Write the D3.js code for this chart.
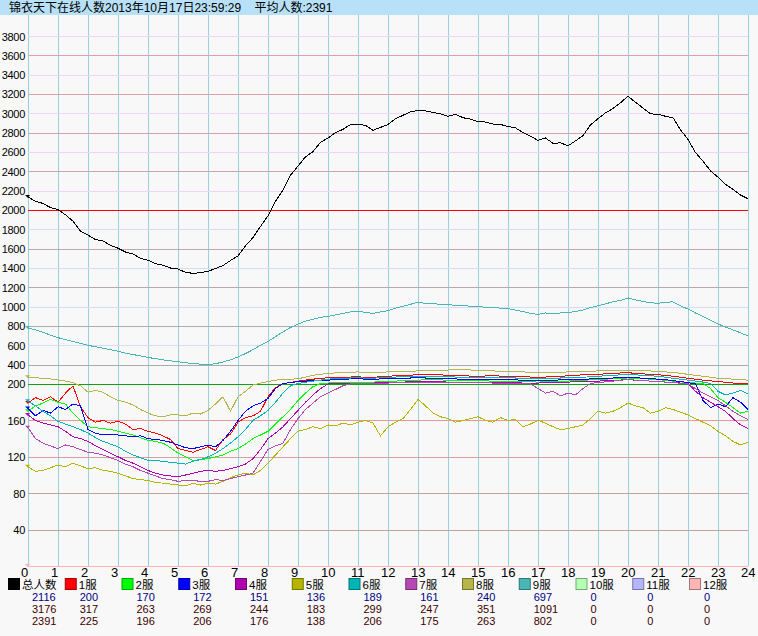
<!DOCTYPE html>
<html><head><meta charset="utf-8">
<script src="https://cdn.jsdelivr.net/npm/d3@7/dist/d3.min.js"></script>
<style>body{margin:0;background:#f8f8f8;}svg{display:block}</style>
</head><body>
<svg id="c" width="758" height="636"></svg>
<script>
const titleText = "锦衣天下在线人数2013年10月17日23:59:29    平均人数:2391";
const hourTicks = d3.range(0, 25);
const upperTicks = [200,400,600,800,1000,1200,1400,1600,1800,2000,2200,2400,2600,2800,3000,3200,3400,3600,3800];
const lowerTicks = [40,80,120,160];
const seriesNames = ["总人数","1服","2服","3服","4服","5服","6服","7服","8服","9服","10服","11服","12服"];
const seriesColors = ["#000000","#ff0000","#00ff00","#0000ff","#b000b0","#b5b500","#00b5b5","#b54ab5","#b5b54a","#4ab5b5","#b5ffb5","#b5b5ff","#ffb5b5"];
const curValues = [2116,200,170,172,151,136,189,161,240,697,0,0,0];
const maxValues = [3176,317,263,269,244,183,299,247,351,1091,0,0,0];
const avgValues = [2391,225,196,206,176,138,206,175,263,802,0,0,0];
// quarter-hour samples 0:00 .. 24:00
const sTotal = [2134,2090,2068,2025,2005,1950,1885,1780,1740,1695,1680,1635,1605,1565,1545,1500,1480,1445,1430,1400,1390,1355,1345,1352,1365,1395,1425,1478,1525,1630,1715,1830,1940,2090,2205,2360,2455,2550,2605,2700,2745,2800,2835,2885,2890,2875,2825,2855,2885,2945,2980,3015,3030,3025,3010,2995,2970,2990,2955,2940,2915,2910,2890,2885,2865,2850,2800,2765,2720,2745,2690,2695,2665,2715,2770,2880,2945,3005,3050,3110,3176,3115,3055,2995,2990,2970,2955,2830,2730,2595,2505,2405,2340,2265,2215,2155,2116];
const s1 = [179,185,182,186,180,190,198,175,163,158,160,157,159,156,150,151,148,146,143,139,129,127,125,128,131,127,139,145,158,163,165,170,186,196,205,215,230,240,250,258,265,268,270,272,275,268,270,275,280,285,290,292,295,298,300,295,290,288,285,282,280,283,285,282,280,278,275,272,270,272,275,280,285,290,295,298,300,305,310,314,317,310,305,300,295,290,280,270,260,250,240,232,225,218,210,205,200];
const s2 = [170,176,179,183,180,178,168,160,153,152,151,150,148,146,144,141,138,137,135,130,124,120,116,117,118,120,122,126,129,134,140,144,148,156,164,172,182,190,197,204,210,212,215,218,220,218,220,222,225,230,235,238,240,243,245,242,240,238,235,235,235,232,230,230,230,228,225,222,220,222,225,228,230,235,240,242,245,250,255,258,263,258,255,250,245,238,230,222,215,210,205,195,185,180,174,168,170];
const s3 = [173,165,171,168,175,172,178,176,150,146,144,145,144,143,142,143,140,139,138,136,133,130,129,131,133,131,138,148,160,170,176,179,184,195,205,215,225,230,235,238,240,245,250,252,255,250,250,252,255,258,260,262,265,262,260,258,255,252,250,250,250,248,245,245,245,242,240,238,235,238,240,242,245,248,250,252,255,258,262,265,269,265,260,255,250,245,235,225,215,200,182,174,178,175,185,180,172];
const s4 = [166,160,157,155,153,148,142,140,137,132,128,124,120,116,113,109,105,102,100,99,98,100,102,104,105,104,105,107,109,112,118,128,140,146,153,162,171,180,188,195,200,203,205,208,210,208,210,212,215,218,220,222,225,225,225,222,220,220,220,218,215,215,215,215,215,212,210,210,210,212,215,218,220,222,225,228,230,234,238,241,244,240,235,230,225,220,215,210,205,192,185,180,175,170,162,155,151];
const s5 = [109,104,105,108,111,109,113,110,107,108,105,104,102,99,96,95,94,92,91,90,89,88,91,89,91,90,93,97,100,102,100,105,113,122,131,140,148,150,153,151,155,154,157,155,158,160,157,143,153,158,162,172,183,176,168,164,162,158,160,162,164,160,158,163,160,161,153,156,160,157,153,150,151,153,155,162,170,168,170,174,179,176,174,168,170,174,172,169,166,162,158,154,148,143,137,133,136];
const s6 = [181,176,170,165,159,156,153,150,146,141,137,134,131,126,122,119,116,116,115,114,113,112,115,117,120,124,129,135,142,150,160,165,171,180,190,198,205,218,230,240,250,255,260,262,265,260,260,265,270,272,275,278,280,280,280,278,275,272,270,270,270,268,265,265,265,262,260,258,255,258,260,262,265,268,270,275,280,285,290,295,299,295,290,285,280,270,260,250,240,230,220,205,192,188,190,193,189];
const s7 = [152,140,135,132,129,133,131,128,125,124,122,119,116,112,109,105,102,99,96,95,93,94,94,93,93,95,94,96,98,100,102,115,128,132,135,150,162,172,179,186,190,194,198,202,205,208,210,210,210,212,215,218,220,220,220,218,215,215,215,215,215,212,210,210,210,208,205,200,195,190,192,187,190,188,195,205,215,222,230,238,247,240,235,230,225,220,215,208,200,195,190,186,182,176,170,165,161];
const s8 = [269,265,259,252,241,230,213,198,191,193,191,186,182,180,177,172,168,165,164,166,166,165,168,167,171,178,186,170,186,192,199,210,225,240,245,248,255,270,290,300,310,315,320,322,325,320,320,322,325,328,330,332,335,338,340,342,345,348,351,345,340,338,335,332,330,328,325,322,320,320,320,322,325,328,330,332,335,338,340,342,345,342,340,335,330,325,320,310,300,290,280,270,260,255,250,245,240];
const s9 = [780,760,735,705,680,660,640,620,600,585,570,555,540,520,505,490,475,462,450,440,430,420,412,405,402,410,428,450,480,515,555,600,640,690,740,785,820,850,870,890,900,915,930,945,955,940,930,945,960,985,1005,1025,1045,1035,1030,1025,1020,1015,1010,1005,1000,995,990,985,980,965,950,930,920,935,925,935,940,950,965,990,1010,1030,1050,1065,1091,1070,1055,1040,1035,1045,1050,1010,975,935,900,860,820,790,760,730,697];
const s10 = [0,0];
const s11 = [0,0];
const s12 = [0,0];
const allSeries = [sTotal,s1,s2,s3,s4,s5,s6,s7,s8,s9,s10,s11,s12];

const svg = d3.select("#c");
const W = 758, H = 636;
const x = d3.scaleLinear().domain([0, 24]).range([28, 748]);
const y = d3.scaleLinear().domain([0, 200, 4000]).range([566, 384, 16.7]);
const latin = "'Liberation Sans', Arial, 'Noto Sans CJK SC', sans-serif";

svg.append("rect").attr("width", W).attr("height", H).attr("fill", "#f8f8f8");
svg.append("rect").attr("width", W).attr("height", 15).attr("fill", "#b8e0f8");
svg.append("text").attr("x", 9).attr("y", 12).attr("font-size", 12).attr("font-family", latin)
  .style("white-space", "pre").attr("fill", "#000").text(titleText);

// vertical grid
svg.append("g").selectAll("line").data(hourTicks).join("line")
  .attr("x1", d => Math.round(x(d)) + 0.5).attr("x2", d => Math.round(x(d)) + 0.5)
  .attr("y1", 15).attr("y2", 566).attr("stroke", "#98d0dc").attr("stroke-width", 1);

// horizontal grid
function gridColor(v, lower) {
  if (lower) return {160:"#e89898",120:"#d8a0a0",80:"#c8a0a0",40:"#c0a0a0"}[v];
  if (v === 2000) return "#ff0000";
  if (v === 200) return "#10a010";
  if ((v / 200) % 2 === 1) return v > 2000 ? "#ecd6f4" : "#d4dcf6";
  const t = (v - 400) / 3200;
  return d3.interpolateRgb("#a8acb0", "#e0a0ac")(t);
}
const hg = svg.append("g");
upperTicks.concat(lowerTicks).forEach(v => {
  const yy = Math.round(y(v)) + 0.5;
  hg.append("line").attr("x1", 28).attr("x2", 748).attr("y1", yy).attr("y2", yy)
    .attr("stroke", gridColor(v, v < 200));
});

// y axis labels
const yAxis = d3.axisLeft(y).tickValues(upperTicks.concat(lowerTicks)).tickFormat(d3.format("d")).tickSize(0).tickPadding(0);
const ga = svg.append("g").attr("transform", "translate(25,0)").call(yAxis);
ga.select(".domain").remove();
ga.selectAll("text").attr("font-size", 11).attr("letter-spacing", -0.3)
  .attr("font-family", "'Liberation Sans', Arial, sans-serif")
  .attr("fill", "#000").attr("dy", "0.36em");

// x axis labels
const xAxis = d3.axisBottom(x).tickValues(hourTicks).tickSize(0).tickPadding(0);
const gx = svg.append("g").attr("transform", "translate(0,566)").call(xAxis);
gx.select(".domain").remove();
gx.selectAll("text").attr("font-size", 13).attr("font-family", latin).attr("fill", "#000")
  .attr("text-anchor", "start").attr("dx", -7.5).attr("y", 11).attr("dy", 0);

// lines
const lg = svg.append("g");
allSeries.forEach((s, k) => {
  const n = s.length;
  const line = d3.line().x((d, i) => x(i * 24 / (n - 1))).y(d => y(d));
  lg.append("path").attr("d", line(s)).attr("fill", "none")
    .attr("stroke", seriesColors[k]).attr("stroke-width", 1)
    .attr("shape-rendering", "crispEdges");
  const x0 = x(0), y0 = y(s[0]);
  lg.append("path").attr("d", `M${x0-3},${y0-2}L${x0+2},${y0-2}L${x0},${y0+1}Z`)
    .attr("fill", seriesColors[k]);
});

// legend
const leg = svg.append("g");
seriesNames.forEach((name, i) => {
  const sx = 8 + 56.75 * i;
  const c = d3.color(seriesColors[i]);
  leg.append("rect").attr("x", sx + 0.5).attr("y", 578.5).attr("width", 11).attr("height", 11)
    .attr("fill", seriesColors[i]).attr("stroke", c.darker(1.2)).attr("stroke-width", 1);
  leg.append("text").attr("x", sx + 14).attr("y", 588.5).attr("font-size", 11.5)
    .attr("font-family", latin).attr("fill", "#000").text(name);
  const nx = sx + (i === 0 ? 24 : 15);
  [[curValues, "#000080", 600.5], [maxValues, "#400000", 612.5], [avgValues, "#400000", 624.5]].forEach(([arr, col, yy]) => {
    leg.append("text").attr("x", nx).attr("y", yy).attr("font-size", 11)
      .attr("font-family", latin).attr("fill", col).text(arr[i]);
  });
});
</script>
</body></html>
